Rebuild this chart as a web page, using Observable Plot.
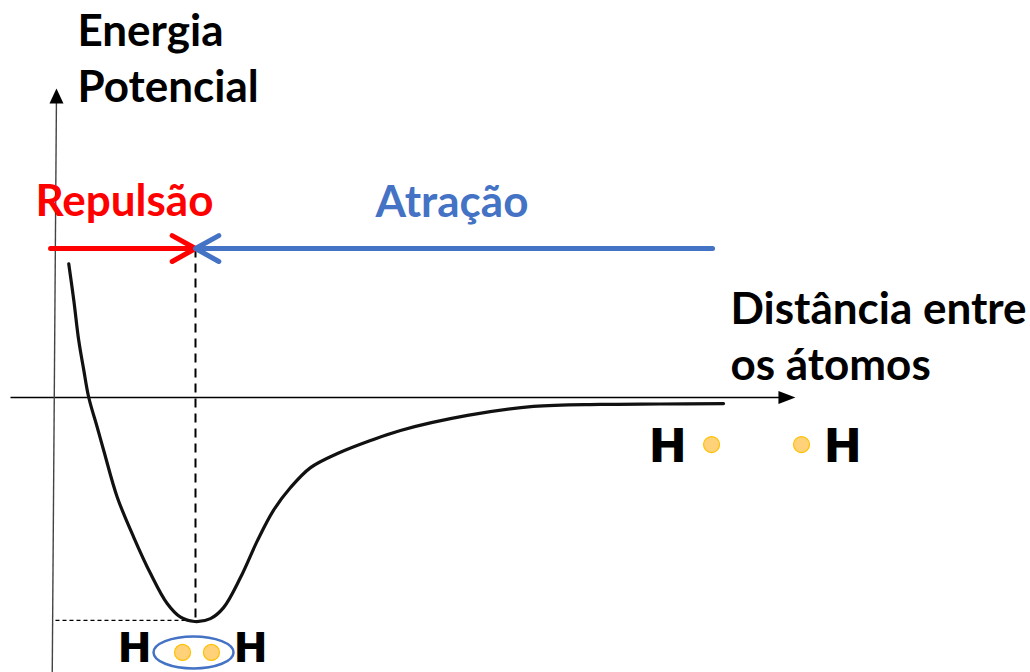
<!DOCTYPE html>
<html><head><meta charset="utf-8">
<script src="https://cdn.jsdelivr.net/npm/d3@7"></script>
<script src="https://cdn.jsdelivr.net/npm/@observablehq/plot@0.6"></script>
<style>body{margin:0;background:#fff;overflow:hidden}</style>
</head><body><div id="chart"></div>
<script>
// Potential energy curve (distance in units of equilibrium distance, energy in units of well depth)
const curveDistance = [0.101,0.137,0.172,0.208,0.243,0.303,0.351,0.445,0.562,0.681,0.799,0.894,0.995,1.106,1.199,1.319,1.440,1.553,1.674,1.816,2.007,2.241,2.454,2.929,3.397,3.872,4.298,4.745];
const curveEnergy   = [0.597,0.433,0.254,0.121,0.000,-0.133,-0.241,-0.445,-0.624,-0.786,-0.920,-0.981,-1.000,-0.987,-0.938,-0.804,-0.638,-0.504,-0.402,-0.313,-0.250,-0.192,-0.147,-0.080,-0.040,-0.031,-0.029,-0.027];

// Equilibrium point
const eqDistance = 1.0;
const eqEnergy = -1.0;

// Axis extents
const xAxisStart = -0.312, xAxisEnd = 5.19, xAxisTip = 5.255;
const yAxisTopR = 0.014, yAxisTop = 1.35, yAxisTip = 1.379, yAxisBottomR = -0.016, yAxisBottom = -1.23;

// Axis labels
const axisLabels = ["Energia", "Potencial", "Distância entre", "os átomos"];
const axisLabelR = [0.163, 0.163, 4.794, 4.794];
const axisLabelE = [1.571, 1.317, 0.330, 0.076];

// Forces
const forceLabels = ["Repulsão", "Atração"];
const forceColors = ["#FF0000", "#4472C4"];
const forceLabelR = [-0.135, 2.277];
const forceLabelE = [0.8125, 0.804];
const forceStartR = [-0.028, 4.667];
const forceEnergy = 0.665;

// Atoms: separated pair (top right) and bonded molecule (bottom)
const farAtomLabels = ["H", "H"];
const farAtomR = [4.213, 5.454];
const farAtomE = [-0.290, -0.290];
const bondAtomLabels = ["H", "H"];
const bondAtomR = [0.447, 1.270];
const bondAtomE = [-1.183, -1.183];
const electronR = [4.660, 5.298, 0.908, 1.113];
const electronE = [-0.210, -0.210, -1.138, -1.138];
const bondR = [0.986];
const bondE = [-1.138];

const curve = curveDistance.map((r, i) => ({r, e: curveEnergy[i]}));
const axisText = axisLabels.map((t, i) => ({t, r: axisLabelR[i], e: axisLabelE[i]}));
const forceText = forceLabels.map((t, i) => ({t, r: forceLabelR[i], e: forceLabelE[i], c: forceColors[i]}));
const forces = forceStartR.map((r, i) => ({r1: r, r2: eqDistance, e: forceEnergy, c: forceColors[i]}));
const farAtoms = farAtomLabels.map((t, i) => ({t, r: farAtomR[i], e: farAtomE[i]}));
const bondAtoms = bondAtomLabels.map((t, i) => ({t, r: bondAtomR[i], e: bondAtomE[i]}));
const electrons = electronR.map((r, i) => ({r, e: electronE[i]}));
const bonds = bondR.map((r, i) => ({r, e: bondE[i]}));

const triUp = {draw(ctx) { ctx.moveTo(0, 0); ctx.lineTo(7, 15); ctx.lineTo(-7, 15); ctx.closePath(); }};
const triRight = {draw(ctx) { ctx.moveTo(0, 0); ctx.lineTo(-17, 6.5); ctx.lineTo(-17, -6.5); ctx.closePath(); }};
const ellipse = {draw(ctx) {
  const a = 40, b = 16, k = 0.5523;
  ctx.moveTo(a, 0);
  ctx.bezierCurveTo(a, b * k, a * k, b, 0, b);
  ctx.bezierCurveTo(-a * k, b, -a, b * k, -a, 0);
  ctx.bezierCurveTo(-a, -b * k, -a * k, -b, 0, -b);
  ctx.bezierCurveTo(a * k, -b, a, -b * k, a, 0);
  ctx.closePath();
}};

const font = "Lato, 'Open Sans', sans-serif";
const hFont = "'DejaVu Sans', sans-serif";

const chart = Plot.plot({
  width: 1030, height: 672, margin: 0,
  x: {type: "linear", domain: [0, 1], range: [54, 195], axis: null},
  y: {type: "linear", domain: [0, -1], range: [397, 621], axis: null},
  style: {background: "white", overflow: "visible"},
  marks: [
    // axes
    Plot.link([0], {x1: xAxisStart, x2: xAxisEnd, y1: 0, y2: 0, stroke: "#000", strokeWidth: 1.4}),
    Plot.dot([0], {x: xAxisTip, y: 0, symbol: triRight, fill: "#000", stroke: null, r: 5}),
    Plot.link([0], {x1: yAxisTopR, x2: yAxisBottomR, y1: yAxisTop, y2: yAxisBottom, stroke: "#444", strokeWidth: 1.4}),
    Plot.dot([0], {x: yAxisTopR, y: yAxisTip, symbol: triUp, fill: "#000", stroke: null, r: 5}),
    // dashed guides
    Plot.link([0], {x1: eqDistance, x2: eqDistance, y1: forceEnergy, y2: eqEnergy, stroke: "#000", strokeWidth: 2, strokeDasharray: "9,6"}),
    Plot.link([0], {x1: 0.007, x2: eqDistance, y1: eqEnergy + 0.005, y2: eqEnergy + 0.005, stroke: "#000", strokeWidth: 1.3, strokeDasharray: "4,3"}),
    // curve
    Plot.line(curve, {x: "r", y: "e", curve: "catmull-rom", stroke: "#111", strokeWidth: 3.2}),
    // force arrows
    Plot.arrow(forces, {x1: "r1", x2: "r2", y1: "e", y2: "e", stroke: "c", strokeWidth: 5, headLength: 8, headAngle: 58}),
    // texts
    Plot.text(axisText, {x: "r", y: "e", text: "t", textAnchor: "start", lineAnchor: "bottom", fontSize: 44, fontWeight: "bold", fontFamily: font, fill: "#000"}),
    Plot.text(forceText, {x: "r", y: "e", text: "t", textAnchor: "start", lineAnchor: "bottom", fontSize: 44, fontWeight: "bold", fontFamily: font, fill: "c"}),
    Plot.text(farAtoms, {x: "r", y: "e", text: "t", textAnchor: "start", lineAnchor: "bottom", fontSize: 46, fontWeight: 900, fontFamily: hFont, fill: "#000"}),
    Plot.text(bondAtoms, {x: "r", y: "e", text: "t", textAnchor: "start", lineAnchor: "bottom", fontSize: 41, fontWeight: 900, fontFamily: hFont, fill: "#000"}),
    // bond and electrons
    Plot.dot(bonds, {x: "r", y: "e", symbol: ellipse, fill: "none", stroke: "#4472C4", strokeWidth: 2.5, r: 10}),
    Plot.dot(electrons, {x: "r", y: "e", r: 8, fill: "#FFD27A", stroke: "#FFC000", strokeWidth: 1.2})
  ]
});
chart.setAttribute("color", "#000");
document.getElementById("chart").appendChild(chart);
</script>
</body></html>
